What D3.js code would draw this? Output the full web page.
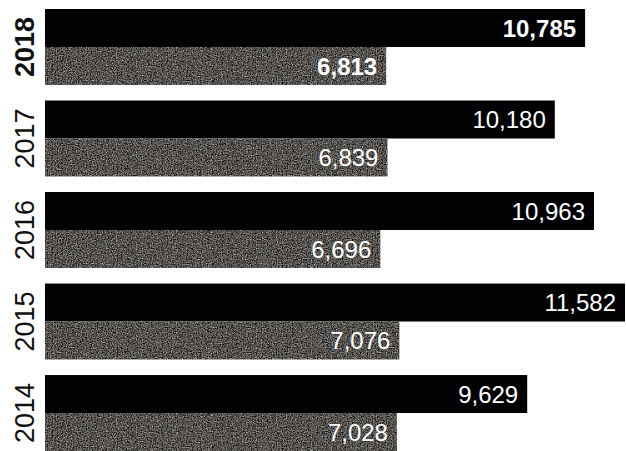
<!DOCTYPE html>
<html>
<head>
<meta charset="utf-8">
<script src="https://cdn.jsdelivr.net/npm/d3@7"></script>
<style>
  body { margin: 0; background: #fff; }
  svg { display: block; }
</style>
</head>
<body>
<div id="chart"></div>
<script>
const years = ["2018", "2017", "2016", "2015", "2014"];
const blackValues = [10785, 10180, 10963, 11582, 9629];
const grayValues = [6813, 6839, 6696, 7076, 7028];

const W = 626, H = 451;

const svg = d3.select("#chart")
  .append("svg")
  .attr("width", W)
  .attr("height", H);

// grainy photo-like fill for the gray bars
const defs = svg.append("defs");
const filt = defs.append("filter")
  .attr("id", "grain")
  .attr("color-interpolation-filters", "sRGB")
  .attr("x", 0).attr("y", 0).attr("width", 1).attr("height", 1);
filt.append("feTurbulence")
  .attr("type", "fractalNoise")
  .attr("baseFrequency", 0.8)
  .attr("numOctaves", 2)
  .attr("seed", 3)
  .attr("result", "noise");
filt.append("feColorMatrix")
  .attr("in", "noise")
  .attr("type", "matrix")
  .attr("values", "0.33 0.33 0.33 0 0  0.33 0.33 0.33 0 0  0.33 0.33 0.33 0 0  0 0 0 0 1")
  .attr("result", "gray");
filt.append("feComponentTransfer")
  .attr("in", "gray")
  .attr("result", "adj")
  .call(g => {
    g.append("feFuncR").attr("type", "linear").attr("slope", 1.8).attr("intercept", -0.56);
    g.append("feFuncG").attr("type", "linear").attr("slope", 1.8).attr("intercept", -0.57);
    g.append("feFuncB").attr("type", "linear").attr("slope", 1.8).attr("intercept", -0.58);
  });
filt.append("feComposite")
  .attr("in", "adj")
  .attr("in2", "SourceGraphic")
  .attr("operator", "in");

const x = d3.scaleLinear()
  .domain([0, d3.max(blackValues)])
  .range([45, 625]);

const y = d3.scaleBand()
  .domain(years)
  .range([9, 451])
  .paddingInner(0.17);

const sub = d3.scaleBand()
  .domain(["black", "gray"])
  .range([0, y.bandwidth()]);

const fmt = d3.format(",");

const rows = years.map((yr, i) => ({ year: yr, black: blackValues[i], gray: grayValues[i] }));

const group = svg.selectAll("g.year")
  .data(rows)
  .enter().append("g")
  .attr("class", "year")
  .attr("transform", d => "translate(0," + y(d.year) + ")");

["black", "gray"].forEach(key => {
  group.append("rect")
    .attr("x", x(0))
    .attr("y", sub(key))
    .attr("width", d => x(d[key]) - x(0))
    .attr("height", sub.bandwidth())
    .attr("fill", key === "black" ? "#020103" : "#5b5958")
    .attr("filter", key === "gray" ? "url(#grain)" : null);

  group.append("text")
    .attr("x", d => x(d[key]) - 9)
    .attr("y", sub(key) + sub.bandwidth() / 2)
    .attr("dy", "0.36em")
    .attr("text-anchor", "end")
    .attr("fill", "#fff")
    .attr("font-family", "Liberation Sans, Arial, sans-serif")
    .attr("font-size", "24px")
    .attr("font-weight", d => d.year === "2018" ? "bold" : "normal")
    .text(d => fmt(d[key]));
});

// rotated year labels on the left
group.append("text")
  .attr("transform", "translate(34," + (y.bandwidth() / 2) + ") rotate(-90)")
  .attr("text-anchor", "middle")
  .attr("fill", "#111")
  .attr("font-family", "Liberation Sans, Arial, sans-serif")
  .attr("font-size", "27px")
  .attr("font-weight", d => d.year === "2018" ? "bold" : "normal")
  .text(d => d.year);
</script>
</body>
</html>
